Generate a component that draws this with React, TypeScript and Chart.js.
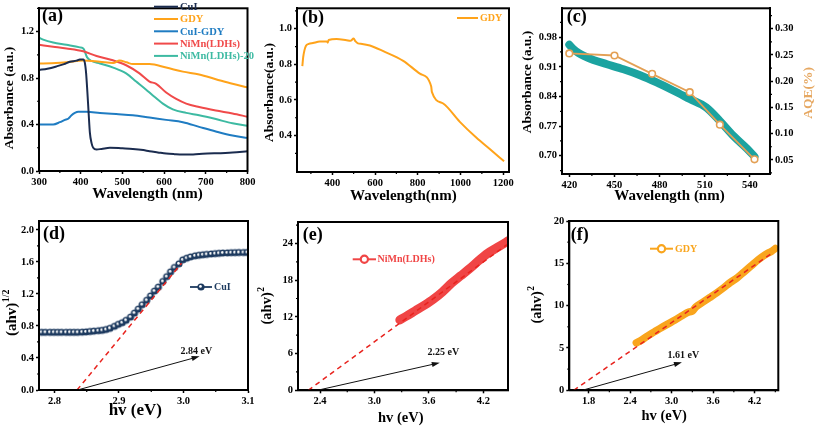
import React, { useEffect, useRef } from "react";
import { Chart, registerables } from "chart.js";

Chart.register(...registerables);

const FONT = "'Liberation Serif', 'Times New Roman', serif";

// ---------------- Panel (a): UV-vis absorbance ----------------
const aCuIX = [300, 320, 342, 360, 374, 390, 398, 406, 410, 413, 416, 419, 422, 426, 430, 438, 450, 470, 500, 525, 550, 565, 585, 605, 625, 645, 665, 684, 720, 764, 800];
const aCuIY = [0.87, 0.88, 0.9, 0.92, 0.94, 0.95, 0.96, 0.96, 0.93, 0.84, 0.68, 0.5, 0.33, 0.24, 0.2, 0.185, 0.19, 0.2, 0.195, 0.19, 0.18, 0.17, 0.16, 0.15, 0.145, 0.142, 0.143, 0.147, 0.152, 0.16, 0.17];
const aGdyX = [300, 330, 366, 406, 446, 478, 493, 510, 525, 565, 605, 645, 684, 724, 764, 800];
const aGdyY = [0.925, 0.928, 0.935, 0.95, 0.94, 0.93, 0.95, 0.935, 0.92, 0.92, 0.89, 0.855, 0.83, 0.79, 0.75, 0.72];
const aCuGdyX = [300, 334, 350, 362, 370, 378, 386, 394, 414, 446, 485, 525, 565, 605, 645, 684, 724, 764, 800];
const aCuGdyY = [0.4, 0.4, 0.42, 0.44, 0.45, 0.48, 0.5, 0.51, 0.51, 0.5, 0.49, 0.48, 0.46, 0.44, 0.42, 0.38, 0.34, 0.305, 0.285];
const aNiMnX = [300, 334, 366, 406, 438, 470, 509, 541, 565, 581, 605, 629, 653, 684, 724, 764, 800];
const aNiMnY = [1.086, 1.07, 1.055, 1.03, 0.99, 0.96, 0.91, 0.84, 0.77, 0.75, 0.675, 0.62, 0.58, 0.55, 0.52, 0.495, 0.467];
const aNiMn20X = [300, 310, 334, 366, 398, 407, 415, 426, 446, 478, 509, 533, 557, 573, 597, 621, 653, 684, 724, 764, 800];
const aNiMn20Y = [1.147, 1.13, 1.105, 1.086, 1.064, 1.05, 0.98, 0.947, 0.925, 0.89, 0.84, 0.77, 0.7, 0.65, 0.58, 0.53, 0.5, 0.48, 0.447, 0.41, 0.39];
const aSeriesNames = ["CuI", "GDY", "CuI-GDY", "NiMn(LDHs)", "NiMn(LDHs)-20"];
const aXTicks = [300, 400, 500, 600, 700, 800];
const aYTicks = [0, 0.4, 0.8, 1.2];

// ---------------- Panel (b): GDY ----------------
const bGdyX = [260, 264, 270, 277, 290, 310, 342, 375, 379, 383, 420, 467, 485, 500, 508, 520, 540, 576, 639, 732, 810, 863, 866, 919, 997, 1075, 1137, 1204];
const bGdyY = [0.79, 0.84, 0.88, 0.905, 0.915, 0.92, 0.928, 0.928, 0.922, 0.937, 0.942, 0.935, 0.932, 0.945, 0.93, 0.918, 0.915, 0.906, 0.874, 0.82, 0.748, 0.676, 0.645, 0.58, 0.477, 0.387, 0.324, 0.255];
const bXTicks = [400, 600, 800, 1000, 1200];
const bYTicks = [0.4, 0.6, 0.8, 1.0];

// ---------------- Panel (c): absorbance + AQE ----------------
const cAbsX = [420, 423, 426, 430, 436, 445, 456, 467, 478, 489, 500, 511, 520, 529, 538, 543];
const cAbsY = [0.962, 0.951, 0.943, 0.935, 0.926, 0.916, 0.904, 0.89, 0.873, 0.854, 0.834, 0.814, 0.782, 0.747, 0.717, 0.698];
const cAqeX = [420, 450, 475, 500, 520, 543];
const cAqeY = [0.253, 0.249, 0.214, 0.179, 0.117, 0.051];
const cXTicks = [420, 450, 480, 510, 540];
const cYTicks = [0.7, 0.77, 0.84, 0.91, 0.98];
const cY2Ticks = [0.05, 0.1, 0.15, 0.2, 0.25, 0.3];

// ---------------- Panel (d): CuI Tauc ----------------
const dX = [2.780, 2.786, 2.793, 2.799, 2.805, 2.811, 2.818, 2.824, 2.830, 2.836,
  2.843, 2.849, 2.855, 2.861, 2.868, 2.874, 2.880, 2.886, 2.893, 2.899,
  2.905, 2.911, 2.918, 2.924, 2.930, 2.936, 2.943, 2.949, 2.955, 2.961,
  2.968, 2.974, 2.980, 2.986, 2.993, 2.999, 3.005, 3.011, 3.018, 3.024,
  3.030, 3.036, 3.043, 3.049, 3.055, 3.061, 3.068, 3.074, 3.080, 3.086,
  3.093, 3.099];
const dY = [0.72, 0.72, 0.72, 0.72, 0.72, 0.72, 0.72, 0.72, 0.72, 0.72,
  0.722, 0.725, 0.73, 0.735, 0.74, 0.745, 0.755, 0.77, 0.795, 0.82,
  0.84, 0.87, 0.91, 0.96, 1.01, 1.065, 1.12, 1.175, 1.235, 1.285,
  1.355, 1.415, 1.475, 1.53, 1.575, 1.625, 1.645, 1.662, 1.675, 1.682,
  1.688, 1.693, 1.698, 1.702, 1.706, 1.71, 1.712, 1.714, 1.715, 1.716,
  1.716, 1.717];
const dFitX = [2.835, 2.997];
const dFitY = [0, 1.583];
const dArrowX = [2.838, 3.025];
const dArrowY = [0.005, 0.42];
const dGapText = "2.84 eV";
const dGapPos = [3.02, 0.48];
const dXTicks = [2.8, 2.9, 3.0, 3.1];
const dYTicks = [0, 0.4, 0.8, 1.2, 1.6, 2.0];

// ---------------- Panel (e): NiMn(LDHs) Tauc ----------------
const eX = [3.28, 3.35, 3.45, 3.55, 3.65, 3.75, 3.85, 3.95, 4.05, 4.15, 4.25, 4.35, 4.45, 4.48];
const eY = [11.5, 12.1, 13.0, 13.9, 14.9, 16.1, 17.5, 18.7, 19.9, 21.2, 22.4, 23.3, 24.2, 24.5];
const eFitX = [2.27, 4.46];
const eFitY = [0, 23.8];
const eArrowX = [2.4, 3.72];
const eArrowY = [0.1, 4.5];
const eGapText = "2.25 eV";
const eGapPos = [3.76, 6.2];
const eXTicks = [2.4, 3.0, 3.6, 4.2];
const eYTicks = [0, 6, 12, 18, 24];

// ---------------- Panel (f): GDY Tauc ----------------
const fX = [2.49, 2.55, 2.65, 2.75, 2.85, 2.95, 3.05, 3.15, 3.25, 3.3, 3.35, 3.45, 3.55, 3.65, 3.75, 3.85, 3.95, 4.05, 4.15, 4.25, 4.35, 4.45, 4.5];
const fY = [5.6, 5.85, 6.4, 6.9, 7.4, 7.85, 8.3, 8.8, 9.25, 9.35, 9.85, 10.4, 10.95, 11.5, 12.1, 12.75, 13.3, 14.0, 14.7, 15.4, 16.0, 16.45, 16.75];
const fFitX = [1.585, 4.47];
const fFitY = [0, 16.3];
const fArrowX = [1.73, 3.15];
const fArrowY = [0.05, 3.3];
const fGapText = "1.61 eV";
const fGapPos = [3.17, 4.1];
const fXTicks = [1.8, 2.4, 3.0, 3.6, 4.2];
const fYTicks = [0, 5, 10, 15, 20];

// ---------------- styling ----------------
const C_NAVY = "#1b2c4f";
const C_ORANGE = "#ffa31a";
const C_BLUE = "#1f7cc2";
const C_RED = "#f04a4a";
const C_TEAL = "#3dbaa2";
const C_BAND = "#1ba3a0";
const C_AQE = "#e3a055";
const C_BALL = "#1d3a5f";
const C_FIT = "#e8231e";

const TICK_FONT = { family: FONT, size: 10.5, weight: "bold" as const };

function pts(xs: number[], ys: number[]) {
  return xs.map((x, i) => ({ x, y: ys[i] }));
}

function makeBall(color: string, r: number) {
  const c = document.createElement("canvas");
  const s = Math.ceil(r * 2 + 2);
  c.width = s;
  c.height = s;
  const g = c.getContext("2d")!;
  g.beginPath();
  g.arc(s / 2, s / 2, r, 0, Math.PI * 2);
  g.fillStyle = color;
  g.fill();
  g.beginPath();
  g.arc(s / 2 - r * 0.15, s / 2 - r * 0.15, r * 0.38, 0, Math.PI * 2);
  g.fillStyle = "#ffffff";
  g.fill();
  return c;
}

function axis(o: any) {
  return {
    type: "linear",
    position: o.position,
    min: o.min,
    max: o.max,
    afterBuildTicks: (s: any) => {
      s.ticks = o.ticks.map((v: number) => ({ value: v }));
    },
    afterFit: (s: any) => {
      if (o.w !== undefined) s.width = o.w;
      if (o.h !== undefined) s.height = o.h;
    },
    grid: {
      display: true,
      drawOnChartArea: false,
      drawTicks: true,
      tickLength: 3,
      tickWidth: 1.5,
      tickColor: "#000",
    },
    border: { display: true, color: "#000", width: 2 },
    ticks: {
      callback: (v: any) => Number(v).toFixed(o.dec),
      font: TICK_FONT,
      color: "#000",
      padding: 2,
      maxRotation: 0,
      autoSkip: false,
    },
    title: { display: false },
  };
}

function makeDecor(d: any) {
  return {
    id: "decor",
    afterDraw(chart: any) {
      const ctx = chart.ctx;
      const ca = chart.chartArea;
      ctx.save();
      // minor ticks
      Object.values(chart.scales).forEach((sc: any) => {
        const vals = sc.ticks.map((t: any) => t.value);
        if (vals.length < 2) return;
        const step = vals[1] - vals[0];
        ctx.strokeStyle = "#000";
        ctx.lineWidth = 1.2;
        for (let v = vals[0] - step / 2; v <= sc.max + 1e-9; v += step) {
          if (v < sc.min - 1e-9) continue;
          const p = sc.getPixelForValue(v);
          ctx.beginPath();
          if (sc.isHorizontal()) {
            ctx.moveTo(p, ca.bottom);
            ctx.lineTo(p, ca.bottom + 2);
          } else if (sc.position === "right") {
            ctx.moveTo(ca.right, p);
            ctx.lineTo(ca.right + 2, p);
          } else {
            ctx.moveTo(ca.left, p);
            ctx.lineTo(ca.left - 2, p);
          }
          ctx.stroke();
        }
      });
      // frame
      ctx.strokeStyle = "#000";
      ctx.lineWidth = 2;
      ctx.strokeRect(ca.left, ca.top, ca.right - ca.left, ca.bottom - ca.top);
      // arrows
      (d.arrows || []).forEach((a: any) => {
        const xs = chart.scales.x, ys = chart.scales.y;
        const x0 = xs.getPixelForValue(a.x[0]), y0 = ys.getPixelForValue(a.y[0]);
        const x1 = xs.getPixelForValue(a.x[1]), y1 = ys.getPixelForValue(a.y[1]);
        const ang = Math.atan2(y1 - y0, x1 - x0);
        ctx.strokeStyle = "#111";
        ctx.fillStyle = "#111";
        ctx.lineWidth = 1;
        ctx.beginPath();
        ctx.moveTo(x0, y0);
        ctx.lineTo(x1 - 6 * Math.cos(ang), y1 - 6 * Math.sin(ang));
        ctx.stroke();
        ctx.beginPath();
        ctx.moveTo(x1, y1);
        ctx.lineTo(x1 - 8 * Math.cos(ang) + 2.6 * Math.sin(ang), y1 - 8 * Math.sin(ang) - 2.6 * Math.cos(ang));
        ctx.lineTo(x1 - 8 * Math.cos(ang) - 2.6 * Math.sin(ang), y1 - 8 * Math.sin(ang) + 2.6 * Math.cos(ang));
        ctx.closePath();
        ctx.fill();
        ctx.font = `bold 10px ${FONT}`;
        ctx.textAlign = "center";
        ctx.textBaseline = "middle";
        ctx.fillText(a.text, xs.getPixelForValue(a.pos[0]), ys.getPixelForValue(a.pos[1]));
      });
      // legend
      (d.legend || []).forEach((it: any) => {
        const ds = chart.data.datasets[it.ds];
        const color = ds.borderColor;
        ctx.strokeStyle = color;
        ctx.lineWidth = it.lw || 2;
        ctx.beginPath();
        ctx.moveTo(it.x1, it.y);
        ctx.lineTo(it.x2, it.y);
        ctx.stroke();
        const mx = (it.x1 + it.x2) / 2;
        if (it.marker === "ball") {
          ctx.drawImage(it.img, mx - it.img.width / 2, it.y - it.img.height / 2);
        } else if (it.marker === "ring") {
          ctx.beginPath();
          ctx.arc(mx, it.y, 3.6, 0, Math.PI * 2);
          ctx.fillStyle = "#fff";
          ctx.fill();
          ctx.lineWidth = 2.2;
          ctx.stroke();
        }
        ctx.fillStyle = color;
        ctx.font = `bold ${it.size}px ${FONT}`;
        ctx.textAlign = "left";
        ctx.textBaseline = "middle";
        ctx.fillText(ds.label, it.textX, it.y + 0.5);
      });
      // x title
      if (d.xTitle) {
        ctx.fillStyle = "#000";
        ctx.font = `bold ${d.xTitle.size}px ${FONT}`;
        ctx.textAlign = "center";
        ctx.textBaseline = "middle";
        ctx.fillText(d.xTitle.text, d.xTitle.x, d.xTitle.y);
      }
      // y titles (rotated)
      (d.yTitles || []).forEach((t: any) => {
        ctx.save();
        ctx.translate(t.x, t.y);
        ctx.rotate(-Math.PI / 2);
        ctx.fillStyle = t.color || "#000";
        ctx.textAlign = "left";
        ctx.textBaseline = "middle";
        ctx.font = `bold ${t.size}px ${FONT}`;
        const w1 = ctx.measureText(t.text).width;
        let w2 = 0;
        if (t.sup) {
          ctx.font = `bold ${t.supSize}px ${FONT}`;
          w2 = ctx.measureText(t.sup).width;
        }
        const start = -(w1 + w2) / 2;
        ctx.font = `bold ${t.size}px ${FONT}`;
        ctx.fillText(t.text, start, 0);
        if (t.sup) {
          ctx.font = `bold ${t.supSize}px ${FONT}`;
          ctx.fillText(t.sup, start + w1 + 0.5, -t.size * 0.38);
        }
        ctx.restore();
      });
      // panel label
      ctx.fillStyle = "#000";
      ctx.font = `bold 18px ${FONT}`;
      ctx.textAlign = "left";
      ctx.textBaseline = "middle";
      ctx.fillText(d.label.text, d.label.x, d.label.y);
      ctx.restore();
    },
  };
}

function build(p: any) {
  return {
    type: "line",
    data: { datasets: p.datasets },
    options: {
      animation: false,
      responsive: false,
      devicePixelRatio: 1,
      events: [],
      layout: { padding: { left: 0, top: p.padTop, right: p.padRight, bottom: 0 }, autoPadding: false },
      plugins: { legend: { display: false }, tooltip: { enabled: false }, title: { display: false } },
      scales: p.scales,
    },
    plugins: [makeDecor(p.decor)],
  };
}

function panels() {
  const ball = makeBall(C_BALL, 3.6);
  const mono = { cubicInterpolationMode: "monotone", pointRadius: 0, borderWidth: 2 };
  return [
    // (a)
    {
      padTop: 2.6, padRight: 10.5,
      datasets: [
        { label: aSeriesNames[0], data: pts(aCuIX, aCuIY), borderColor: C_NAVY, ...mono },
        { label: aSeriesNames[1], data: pts(aGdyX, aGdyY), borderColor: C_ORANGE, ...mono },
        { label: aSeriesNames[2], data: pts(aCuGdyX, aCuGdyY), borderColor: C_BLUE, ...mono },
        { label: aSeriesNames[3], data: pts(aNiMnX, aNiMnY), borderColor: C_RED, ...mono },
        { label: aSeriesNames[4], data: pts(aNiMn20X, aNiMn20Y), borderColor: C_TEAL, ...mono },
      ],
      scales: {
        x: axis({ min: 300, max: 800, ticks: aXTicks, dec: 0, position: "bottom", h: 39 }),
        y: axis({ min: 0, max: 1.4, ticks: aYTicks, dec: 1, position: "left", w: 39 }),
      },
      decor: {
        label: { text: "(a)", x: 42, y: 16.5 },
        xTitle: { text: "Wavelength (nm)", x: 147.5, y: 194, size: 15 },
        yTitles: [{ text: "Absorbance (a.u.)", x: 9.5, y: 98, size: 13.5 }],
        legend: [0, 1, 2, 3, 4].map((i) => ({ ds: i, x1: 154, x2: 178, y: 6.7 + i * 12.3, textX: 180, size: 10.5 })),
      },
    },
    // (b)
    {
      padTop: 2, padRight: 11,
      datasets: [{ label: "GDY", data: pts(bGdyX, bGdyY), borderColor: C_ORANGE, ...mono }],
      scales: {
        x: axis({ min: 235, max: 1227, ticks: bXTicks, dec: 0, position: "bottom", h: 38 }),
        y: axis({ min: 0.195, max: 1.115, ticks: bYTicks, dec: 1, position: "left", w: 39 }),
      },
      decor: {
        label: { text: "(b)", x: 44, y: 18 },
        xTitle: { text: "Wavelength(nm)", x: 145.3, y: 196.5, size: 15 },
        yTitles: [{ text: "Absorbance(a.u.)", x: 12, y: 92.5, size: 13.5 }],
        legend: [{ ds: 0, x1: 199, x2: 220, y: 18, textX: 222, size: 10 }],
      },
    },
    // (c)
    {
      padTop: 4, padRight: 0,
      datasets: [
        {
          label: "AQE", data: pts(cAqeX, cAqeY), borderColor: C_AQE, yAxisID: "y2", borderWidth: 1.8,
          pointRadius: 3.3, pointBackgroundColor: "#fff", pointBorderColor: C_AQE, pointBorderWidth: 1.6,
        },
        {
          label: "Absorbance", data: pts(cAbsX, cAbsY), borderColor: C_BAND, yAxisID: "y", borderWidth: 8,
          borderCapStyle: "round", cubicInterpolationMode: "monotone", pointRadius: 0,
        },
      ],
      scales: {
        x: axis({ min: 415.15, max: 553.3, ticks: cXTicks, dec: 0, position: "bottom", h: 36 }),
        y: axis({ min: 0.657, max: 1.048, ticks: cYTicks, dec: 2, position: "left", w: 44 }),
        y2: axis({ min: 0.023, max: 0.339, ticks: cY2Ticks, dec: 2, position: "right", w: 47 }),
      },
      decor: {
        label: { text: "(c)", x: 48.7, y: 17.5 },
        xTitle: { text: "Wavelength (nm)", x: 151.5, y: 196.5, size: 15 },
        yTitles: [
          { text: "Absorbance (a.u.)", x: 9.5, y: 82, size: 13.5 },
          { text: "AQE(%)", x: 291, y: 93, size: 13.5, color: "#e6a862" },
        ],
      },
    },
    // (d)
    {
      padTop: 11, padRight: 10,
      datasets: [
        { label: "fit", data: pts(dFitX, dFitY), borderColor: C_FIT, borderWidth: 1.5, borderDash: [5, 4], pointRadius: 0 },
        {
          label: "CuI", data: pts(dX, dY), borderColor: C_BALL, backgroundColor: C_BALL, borderWidth: 1.5,
          pointStyle: ball, pointRadius: 3.6,
        },
      ],
      scales: {
        x: axis({ min: 2.776, max: 3.1, ticks: dXTicks, dec: 1, position: "bottom", h: 38 }),
        y: axis({ min: 0, max: 2.11, ticks: dYTicks, dec: 1, position: "left", w: 39 }),
      },
      decor: {
        label: { text: "(d)", x: 43, y: 24.5 },
        xTitle: { text: "hv (eV)", x: 135.3, y: 200.5, size: 17 },
        yTitles: [{ text: "(ahv)", sup: "1/2", x: 12.5, y: 103, size: 15, supSize: 10 }],
        legend: [{ ds: 1, x1: 190, x2: 212, y: 77, textX: 214, size: 10, marker: "ball", img: ball, lw: 1.8 }],
        arrows: [{ x: dArrowX, y: dArrowY, text: dGapText, pos: dGapPos }],
      },
    },
    // (e)
    {
      padTop: 12, padRight: 10,
      datasets: [
        { label: "fit", data: pts(eFitX, eFitY), borderColor: C_FIT, borderWidth: 1.5, borderDash: [5, 4], pointRadius: 0 },
        {
          label: "NiMn(LDHs)", data: pts(eX, eY), borderColor: "#f04545", borderWidth: 9,
          borderCapStyle: "round", cubicInterpolationMode: "monotone", pointRadius: 0,
        },
      ],
      scales: {
        x: axis({ min: 2.157, max: 4.472, ticks: eXTicks, dec: 1, position: "bottom", h: 37.7 }),
        y: axis({ min: 0, max: 27.5, ticks: eYTicks, dec: 0, position: "left", w: 42 }),
      },
      decor: {
        label: { text: "(e)", x: 46.7, y: 25.8 },
        xTitle: { text: "hv (eV)", x: 144.8, y: 208.3, size: 14.5 },
        yTitles: [{ text: "(ahv)", sup: "2", x: 11.5, y: 96, size: 14.5, supSize: 9.5 }],
        legend: [{ ds: 1, x1: 96.7, x2: 120, y: 49.3, textX: 121.5, size: 10, marker: "ring" }],
        arrows: [{ x: eArrowX, y: eArrowY, text: eGapText, pos: eGapPos }],
      },
    },
    // (f)
    {
      padTop: 11, padRight: 38.7,
      datasets: [
        { label: "fit", data: pts(fFitX, fFitY), borderColor: C_FIT, borderWidth: 1.5, borderDash: [5, 4], pointRadius: 0 },
        {
          label: "GDY", data: pts(fX, fY), borderColor: "#f9a51d", borderWidth: 7.5,
          borderCapStyle: "round", cubicInterpolationMode: "monotone", pointRadius: 0,
        },
      ],
      scales: {
        x: axis({ min: 1.521, max: 4.543, ticks: fXTicks, dec: 1, position: "bottom", h: 37.7 }),
        y: axis({ min: 0, max: 20, ticks: fYTicks, dec: 0, position: "left", w: 43.3 }),
      },
      decor: {
        label: { text: "(f)", x: 44.7, y: 25.5 },
        xTitle: { text: "hv (eV)", x: 138.2, y: 206.7, size: 14.5 },
        yTitles: [{ text: "(ahv)", sup: "2", x: 11.5, y: 95, size: 14.5, supSize: 9.5 }],
        legend: [{ ds: 1, x1: 124, x2: 147, y: 38.7, textX: 149, size: 10, marker: "ring" }],
        arrows: [{ x: fArrowX, y: fArrowY, text: fGapText, pos: fGapPos }],
      },
    },
  ];
}

const LAYOUT = [
  { left: 0, top: 0, width: 258, height: 210 },
  { left: 258, top: 0, width: 262, height: 210 },
  { left: 518, top: 0, width: 299, height: 210 },
  { left: 0, top: 210, width: 258, height: 218 },
  { left: 256, top: 210, width: 262, height: 218 },
  { left: 526, top: 210, width: 291, height: 218 },
];

export default function App() {
  const refs = useRef<(HTMLCanvasElement | null)[]>([]);
  useEffect(() => {
    document.body.style.margin = "0";
    Chart.defaults.font.family = FONT;
    Chart.defaults.color = "#000";
    const specs = panels();
    const charts = specs.map((p, i) => new Chart(refs.current[i] as HTMLCanvasElement, build(p) as any));
    return () => charts.forEach((c) => c.destroy());
  }, []);
  return (
    <div style={{ position: "relative", width: 817, height: 428, background: "#fff", overflow: "hidden" }}>
      {LAYOUT.map((l, i) => (
        <canvas
          key={i}
          ref={(el) => { refs.current[i] = el; }}
          width={l.width}
          height={l.height}
          style={{ position: "absolute", left: l.left, top: l.top, width: l.width, height: l.height }}
        />
      ))}
    </div>
  );
}
